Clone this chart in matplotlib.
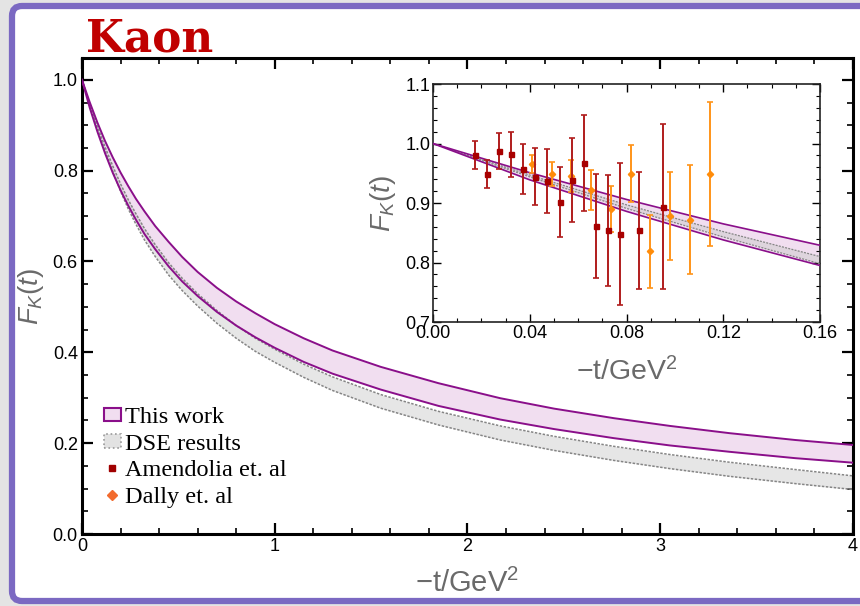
import matplotlib
matplotlib.use("Agg")
import numpy as np
from matplotlib import pyplot as plt
from matplotlib.patches import FancyBboxPatch, Patch
from matplotlib.lines import Line2D
from matplotlib.ticker import MultipleLocator

plt.rcParams['font.family'] = ['Liberation Sans', 'DejaVu Sans']
plt.rcParams['mathtext.fontset'] = 'custom'
plt.rcParams['mathtext.it'] = 'Liberation Sans:italic'
plt.rcParams['mathtext.rm'] = 'Liberation Sans'

# -t in GeV^2, band edges
t = [0, 0.04, 0.08, 0.12, 0.16, 0.2, 0.24, 0.28, 0.325, 0.38, 0.45, 0.52, 0.6, 0.7,
     0.8, 0.9, 1.0, 1.15, 1.3, 1.55, 1.85, 2.17, 2.45, 2.76, 3.05, 3.36, 3.7, 4.0]
this_upper = [1.0, .951, .906, .865, .829, .796, .766, .738, .710, .678, .643, .610, .577, .542,
              .512, .486, .462, .431, .404, .368, .332, .299, .276, .255, .238, .222, .207, .196]
this_lower = [1.0, .939, .886, .838, .795, .757, .723, .692, .660, .627, .589, .556, .524, .489,
              .459, .433, .410, .379, .353, .318, .282, .252, .231, .211, .195, .181, .167, .157]
dse_upper = [1.0, .947, .897, .852, .810, .771, .736, .705, .672, .637, .597, .563, .529, .492,
             .459, .431, .407, .374, .346, .307, .270, .238, .215, .193, .175, .158, .142, .128]
dse_lower = [1.0, .944, .891, .843, .798, .755, .716, .682, .647, .611, .570, .536, .502, .464,
             .431, .402, .378, .345, .316, .277, .240, .207, .184, .162, .144, .127, .111, .098]

# Amendolia et al.
amen_t = [0.0174, 0.0225, 0.0273, 0.0324, 0.0374, 0.0423, 0.0473, 0.0524, 0.0574, 0.0623,
          0.0673, 0.0724, 0.0774, 0.0850, 0.0950]
amen_f = [0.981, 0.949, 0.987, 0.982, 0.958, 0.944, 0.937, 0.902, 0.939, 0.967,
          0.861, 0.854, 0.848, 0.854, 0.894]
amen_err = [0.024, 0.023, 0.030, 0.038, 0.042, 0.048, 0.053, 0.059, 0.071, 0.081,
            0.087, 0.093, 0.119, 0.099, 0.139]

# Dally et al.
dally_t = [0.0408, 0.0491, 0.0570, 0.0654, 0.0735, 0.0818, 0.0899, 0.0981, 0.1063, 0.1146]
dally_f = [0.965, 0.949, 0.945, 0.922, 0.890, 0.949, 0.819, 0.879, 0.872, 0.949]
dally_err = [0.015, 0.020, 0.027, 0.033, 0.039, 0.048, 0.061, 0.074, 0.092, 0.121]

PURPLE = '#8a0f8a'
PINK = '#f1def0'
GRAY_FILL = '#c8c8c8'
GRAY_LINE = '#858585'
LABEL_GRAY = '#6a6a6a'


def draw_bands(ax, lw):
    ax.fill_between(t, this_lower, this_upper, color=PINK, lw=0, zorder=1)
    ax.fill_between(t, dse_lower, dse_upper, color=GRAY_FILL, alpha=0.45, lw=0, zorder=2)
    ax.plot(t, dse_upper, color=GRAY_LINE, lw=lw, ls=(0, (1.6, 1.0)), zorder=3)
    ax.plot(t, dse_lower, color=GRAY_LINE, lw=lw, ls=(0, (1.6, 1.0)), zorder=3)
    ax.plot(t, this_upper, color=PURPLE, lw=lw + 0.3, zorder=4)
    ax.plot(t, this_lower, color=PURPLE, lw=lw + 0.3, zorder=4)


fig = plt.figure(figsize=(8.6, 6.06), dpi=100, facecolor='#e4e4e4')

# slide frame
frame = FancyBboxPatch((0.12, 0.05), 9.0, 5.95, boxstyle="round,pad=0,rounding_size=0.1",
                       transform=fig.dpi_scale_trans, facecolor='white',
                       edgecolor='#7b69c2', lw=4.5, zorder=-5)
fig.patches.append(frame)

fig.text(0.100, 0.915, "Kaon", family='DejaVu Serif', weight='bold', fontsize=31.5,
         color='#c00000', ha='left', va='baseline')

# main axes
ax = fig.add_axes([0.0953, 0.1188, 0.8965, 0.7855])
draw_bands(ax, 1.1)
ax.set_xlim(0, 4)
ax.set_ylim(0, 1.048)
ax.xaxis.set_major_locator(MultipleLocator(1))
ax.xaxis.set_minor_locator(MultipleLocator(0.2))
ax.yaxis.set_minor_locator(MultipleLocator(0.05))
ax.set_yticks([0, 0.2, 0.4, 0.6, 0.8, 1.0])
ax.set_yticklabels(['0.0', '0.2', '0.4', '0.6', '0.8', '1.0'])
ax.tick_params(which='both', direction='in', top=True, right=True, labelsize=13, pad=3)
ax.tick_params(which='major', length=8, width=1.6)
ax.tick_params(which='minor', length=4.5, width=1.2)
for s in ax.spines.values():
    s.set_linewidth(2.2)
ax.set_xlabel('−t/GeV$^2$', fontsize=21, color=LABEL_GRAY, labelpad=10)
ax.set_ylabel('$F_K(t)$', fontsize=20, color=LABEL_GRAY, labelpad=5)

handles = [
    Patch(facecolor=PINK, edgecolor=PURPLE, lw=1.5),
    Patch(facecolor='#e2e2e2', edgecolor='#999999', lw=1.2, ls=':'),
    Line2D([], [], ls='none', marker='s', color='#a00000', markersize=5),
    Line2D([], [], ls='none', marker='D', color='#f26b2e', markersize=5),
]
labels = ['This work', 'DSE results', 'Amendolia et. al', 'Dally et. al']
ax.legend(handles, labels, loc='lower left', bbox_to_anchor=(0.028, 0.055), frameon=False,
          prop={'family': 'Liberation Serif', 'size': 17.5}, handlelength=0.72,
          handleheight=0.5, handletextpad=0.15, labelspacing=0.23, borderpad=0,
          borderaxespad=0)

# inset
ins = fig.add_axes([0.5035, 0.4686, 0.45, 0.3927])
draw_bands(ins, 0.9)
ins.errorbar(amen_t, amen_f, yerr=amen_err, fmt='s', color='#b01c1c', mfc='#a80000',
             mec='#a80000', markersize=3.6, elinewidth=1.4, capsize=2.2, capthick=1.2, zorder=6)
ins.errorbar(dally_t, dally_f, yerr=dally_err, fmt='D', color='#ff9419', mfc='#ff8c0a',
             mec='#ff8c0a', markersize=3.2, elinewidth=1.4, capsize=2.2, capthick=1.2, zorder=5)
ins.set_xlim(0, 0.16)
ins.set_ylim(0.7, 1.1)
ins.set_xticks([0, 0.04, 0.08, 0.12, 0.16])
ins.set_xticklabels(['0.00', '0.04', '0.08', '0.12', '0.16'])
ins.set_yticks([0.7, 0.8, 0.9, 1.0, 1.1])
ins.set_yticklabels(['0.7', '0.8', '0.9', '1.0', '1.1'])
ins.xaxis.set_minor_locator(MultipleLocator(0.01))
ins.yaxis.set_minor_locator(MultipleLocator(0.02))
ins.tick_params(which='both', direction='in', top=True, right=True, labelsize=13, pad=2)
ins.tick_params(which='major', length=5.5, width=1.0)
ins.tick_params(which='minor', length=3, width=0.8)
for s in ins.spines.values():
    s.set_linewidth(1.2)
    s.set_color('#222222')
ins.set_xlabel('−t/GeV$^2$', fontsize=20.5, color=LABEL_GRAY, labelpad=11)
ins.set_ylabel('$F_K(t)$', fontsize=20, color=LABEL_GRAY, labelpad=5)

fig.savefig('out.png', dpi=100, facecolor=fig.get_facecolor())
